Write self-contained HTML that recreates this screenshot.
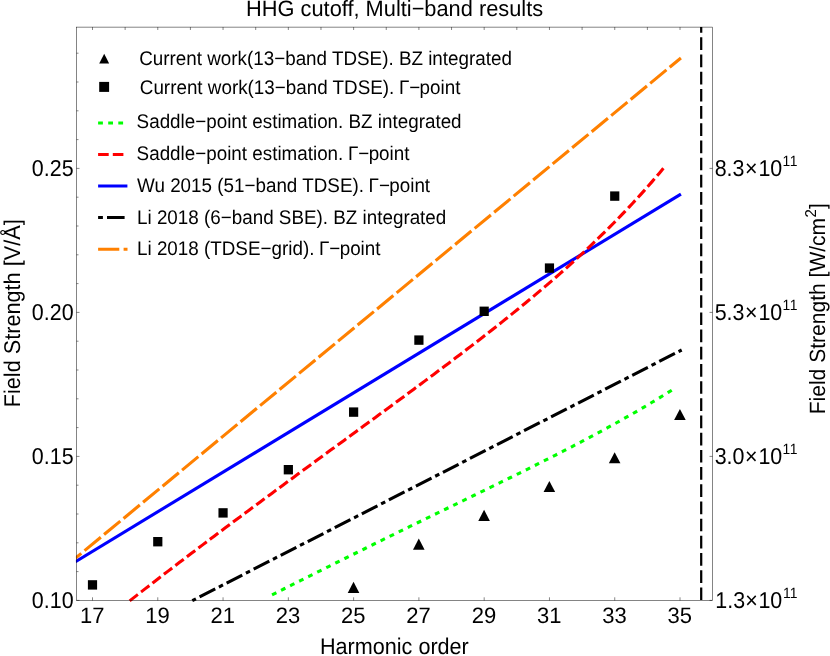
<!DOCTYPE html>
<html><head><meta charset="utf-8"><title>HHG cutoff</title>
<style>html,body{margin:0;padding:0;background:#fff;}svg{display:block;will-change:transform;}text{font-family:"Liberation Sans",sans-serif;fill:#000;text-rendering:geometricPrecision;}</style>
</head><body>
<svg width="830" height="656" viewBox="0 0 830 656">
<rect x="0" y="0" width="830" height="656" fill="#fff"/>
<defs><clipPath id="cp"><rect x="75.90" y="26.50" width="637.20" height="577.00"/></clipPath></defs>
<g clip-path="url(#cp)" fill="none" stroke-linecap="butt">
<line x1="75.50" y1="558.13" x2="680.92" y2="57.96" stroke="#ff8000" stroke-width="3.1" stroke-dasharray="21.1 4.2" stroke-dashoffset="13.57"/>
<line x1="75.50" y1="561.71" x2="680.92" y2="194.08" stroke="#0000ff" stroke-width="3.1"/>
<path d="M129.67,600.85 L133.51,597.85 L137.35,594.85 L141.19,591.86 L145.03,588.87 L148.87,585.90 L152.71,582.93 L156.55,579.97 L160.39,577.01 L164.23,574.06 L168.07,571.12 L171.91,568.18 L175.75,565.25 L179.59,562.32 L183.43,559.40 L187.27,556.49 L191.11,553.58 L194.95,550.67 L198.79,547.77 L202.63,544.88 L206.47,541.98 L210.31,539.10 L214.15,536.21 L217.99,533.33 L221.82,530.46 L225.66,527.59 L229.50,524.72 L233.34,521.86 L237.18,519.00 L241.02,516.14 L244.86,513.29 L248.70,510.43 L252.54,507.59 L256.38,504.74 L260.22,501.90 L264.06,499.06 L267.90,496.22 L271.74,493.39 L275.58,490.56 L279.42,487.73 L283.26,484.90 L287.10,482.08 L290.94,479.25 L294.78,476.43 L298.62,473.61 L302.46,470.80 L306.30,467.98 L310.14,465.17 L313.98,462.35 L317.82,459.54 L321.66,456.73 L325.50,453.92 L329.34,451.11 L333.18,448.30 L337.02,445.50 L340.86,442.69 L344.70,439.88 L348.54,437.07 L352.38,434.27 L356.22,431.46 L360.06,428.65 L363.90,425.84 L367.74,423.03 L371.58,420.22 L375.42,417.41 L379.26,414.60 L383.10,411.78 L386.94,408.97 L390.78,406.15 L394.62,403.33 L398.45,400.50 L402.29,397.68 L406.13,394.84 L409.97,392.01 L413.81,389.17 L417.65,386.33 L421.49,383.48 L425.33,380.63 L429.17,377.77 L433.01,374.91 L436.85,372.04 L440.69,369.16 L444.53,366.28 L448.37,363.39 L452.21,360.49 L456.05,357.59 L459.89,354.67 L463.73,351.75 L467.57,348.81 L471.41,345.87 L475.25,342.91 L479.09,339.95 L482.93,336.97 L486.77,333.98 L490.61,330.98 L494.45,327.96 L498.29,324.93 L502.13,321.88 L505.97,318.82 L509.81,315.74 L513.65,312.64 L517.49,309.53 L521.33,306.39 L525.17,303.24 L529.01,300.07 L532.85,296.87 L536.69,293.66 L540.53,290.42 L544.37,287.16 L548.21,283.87 L552.05,280.56 L555.89,277.22 L559.73,273.85 L563.57,270.46 L567.41,267.04 L571.25,263.58 L575.08,260.10 L578.92,256.58 L582.76,253.03 L586.60,249.44 L590.44,245.82 L594.28,242.16 L598.12,238.46 L601.96,234.72 L605.80,230.94 L609.64,227.12 L613.48,223.25 L617.32,219.34 L621.16,215.38 L625.00,211.38 L628.84,207.32 L632.68,203.22 L636.52,199.06 L640.36,194.85 L644.20,190.59 L648.04,186.26 L651.88,181.88 L655.72,177.44 L659.56,172.94 L663.40,168.37" stroke="#ff0000" stroke-width="3.1" stroke-dasharray="10.43 4.01" stroke-dashoffset="0"/>
<line x1="192.3" y1="600.65" x2="681.7" y2="350.0" stroke="#000" stroke-width="3.1" stroke-dasharray="17.58 4.1 4.6 4.1" stroke-dashoffset="22.2"/>
<path d="M272.05,594.81 L276.09,592.79 L280.14,590.77 L284.18,588.75 L288.22,586.73 L292.26,584.70 L296.31,582.68 L300.35,580.66 L304.39,578.64 L308.44,576.62 L312.48,574.60 L316.52,572.58 L320.57,570.57 L324.61,568.55 L328.65,566.54 L332.69,564.52 L336.74,562.51 L340.78,560.51 L344.82,558.50 L348.87,556.49 L352.91,554.49 L356.95,552.49 L360.99,550.49 L365.04,548.50 L369.08,546.50 L373.12,544.51 L377.17,542.52 L381.21,540.54 L385.25,538.55 L389.29,536.57 L393.34,534.59 L397.38,532.61 L401.42,530.63 L405.47,528.66 L409.51,526.68 L413.55,524.71 L417.60,522.74 L421.64,520.78 L425.68,518.81 L429.72,516.85 L433.77,514.88 L437.81,512.92 L441.85,510.96 L445.90,508.99 L449.94,507.03 L453.98,505.07 L458.02,503.11 L462.07,501.15 L466.11,499.19 L470.15,497.23 L474.20,495.26 L478.24,493.30 L482.28,491.33 L486.33,489.36 L490.37,487.40 L494.41,485.42 L498.45,483.45 L502.50,481.47 L506.54,479.49 L510.58,477.51 L514.63,475.52 L518.67,473.52 L522.71,471.53 L526.75,469.52 L530.80,467.52 L534.84,465.50 L538.88,463.48 L542.93,461.45 L546.97,459.42 L551.01,457.38 L555.06,455.33 L559.10,453.27 L563.14,451.20 L567.18,449.12 L571.23,447.03 L575.27,444.93 L579.31,442.82 L583.36,440.70 L587.40,438.57 L591.44,436.42 L595.48,434.26 L599.53,432.09 L603.57,429.90 L607.61,427.70 L611.66,425.48 L615.70,423.25 L619.74,420.99 L623.78,418.72 L627.83,416.44 L631.87,414.13 L635.91,411.80 L639.96,409.46 L644.00,407.09 L648.04,404.70 L652.09,402.29 L656.13,399.85 L660.17,397.40 L664.21,394.91 L668.26,392.41 L672.30,389.87" stroke="#00ff00" stroke-width="3.1" stroke-dasharray="4.8 5.3"/>
<line x1="701.2" y1="27.1" x2="701.2" y2="600.5" stroke="#000" stroke-width="2.25" stroke-dasharray="12.68 4.51" stroke-dashoffset="6.95"/>
</g>
<rect x="76.5" y="27.1" width="636.0" height="573.4" fill="none" stroke="#000" stroke-width="0.48"/>
<path d="M92.50,600.5 v-3.2 M157.78,600.5 v-3.2 M223.06,600.5 v-3.2 M288.34,600.5 v-3.2 M353.62,600.5 v-3.2 M418.90,600.5 v-3.2 M484.18,600.5 v-3.2 M549.46,600.5 v-3.2 M614.74,600.5 v-3.2 M680.02,600.5 v-3.2 M92.50,27.1 v2.9 M125.14,27.1 v2.9 M157.78,27.1 v2.9 M190.42,27.1 v2.9 M223.06,27.1 v2.9 M255.70,27.1 v2.9 M288.34,27.1 v2.9 M320.98,27.1 v2.9 M353.62,27.1 v2.9 M386.26,27.1 v2.9 M418.90,27.1 v2.9 M451.54,27.1 v2.9 M484.18,27.1 v2.9 M516.82,27.1 v2.9 M549.46,27.1 v2.9 M582.10,27.1 v2.9 M614.74,27.1 v2.9 M647.38,27.1 v2.9 M680.02,27.1 v2.9 M76.5,600.40 h3.0 M76.5,571.60 h2.0 M76.5,542.80 h2.0 M76.5,514.00 h2.0 M76.5,485.20 h2.0 M76.5,456.40 h3.0 M76.5,427.60 h2.0 M76.5,398.80 h2.0 M76.5,370.00 h2.0 M76.5,341.20 h2.0 M76.5,312.40 h3.0 M76.5,283.60 h2.0 M76.5,254.80 h2.0 M76.5,226.00 h2.0 M76.5,197.20 h2.0 M76.5,168.40 h3.0 M76.5,139.60 h2.0 M76.5,110.80 h2.0 M76.5,82.00 h2.0 M76.5,53.20 h2.0 M712.5,168.40 h-3.0 M712.5,312.40 h-3.0 M712.5,456.40 h-3.0 M712.5,600.40 h-3.0" stroke="#000" stroke-width="0.48" fill="none"/>
<rect x="87.90" y="580.20" width="9.2" height="9.4" fill="#000"/>
<rect x="153.18" y="537.00" width="9.2" height="9.4" fill="#000"/>
<rect x="218.46" y="508.20" width="9.2" height="9.4" fill="#000"/>
<rect x="283.74" y="465.00" width="9.2" height="9.4" fill="#000"/>
<rect x="349.02" y="407.40" width="9.2" height="9.4" fill="#000"/>
<rect x="414.30" y="335.40" width="9.2" height="9.4" fill="#000"/>
<rect x="479.58" y="306.60" width="9.2" height="9.4" fill="#000"/>
<rect x="544.86" y="263.40" width="9.2" height="9.4" fill="#000"/>
<rect x="610.14" y="191.40" width="9.2" height="9.4" fill="#000"/>
<path d="M353.52,581.80 L359.32,592.90 L347.72,592.90 Z" fill="#000"/>
<path d="M418.80,538.60 L424.60,549.70 L413.00,549.70 Z" fill="#000"/>
<path d="M484.08,509.80 L489.88,520.90 L478.28,520.90 Z" fill="#000"/>
<path d="M549.36,481.00 L555.16,492.10 L543.56,492.10 Z" fill="#000"/>
<path d="M614.64,452.20 L620.44,463.30 L608.84,463.30 Z" fill="#000"/>
<path d="M679.92,409.00 L685.72,420.10 L674.12,420.10 Z" fill="#000"/>
<text transform="translate(92.2,623.1) scale(1,1.015)" font-size="22.0" text-anchor="middle">17</text>
<text transform="translate(157.48,623.1) scale(1,1.015)" font-size="22.0" text-anchor="middle">19</text>
<text transform="translate(222.76,623.1) scale(1,1.015)" font-size="22.0" text-anchor="middle">21</text>
<text transform="translate(288.04,623.1) scale(1,1.015)" font-size="22.0" text-anchor="middle">23</text>
<text transform="translate(353.32,623.1) scale(1,1.015)" font-size="22.0" text-anchor="middle">25</text>
<text transform="translate(418.6,623.1) scale(1,1.015)" font-size="22.0" text-anchor="middle">27</text>
<text transform="translate(483.88,623.1) scale(1,1.015)" font-size="22.0" text-anchor="middle">29</text>
<text transform="translate(549.16,623.1) scale(1,1.015)" font-size="22.0" text-anchor="middle">31</text>
<text transform="translate(614.44,623.1) scale(1,1.015)" font-size="22.0" text-anchor="middle">33</text>
<text transform="translate(679.72,623.1) scale(1,1.015)" font-size="22.0" text-anchor="middle">35</text>
<text transform="translate(73.6,176.2) scale(1,1.07)" font-size="21.45" text-anchor="end">0.25</text>
<text transform="translate(73.6,320.2) scale(1,1.07)" font-size="21.45" text-anchor="end">0.20</text>
<text transform="translate(73.6,464.2) scale(1,1.07)" font-size="21.45" text-anchor="end">0.15</text>
<text transform="translate(73.6,608.2) scale(1,1.07)" font-size="21.45" text-anchor="end">0.10</text>
<text transform="translate(714.7,176.2) scale(1,1.07)" font-size="21.45" text-anchor="start">8.3<tspan dx="0.5">×</tspan><tspan dx="0.9">10</tspan><tspan font-size="13.9" dx="0.2 0.6" dy="-9.7">11</tspan></text>
<text transform="translate(714.7,320.2) scale(1,1.07)" font-size="21.45" text-anchor="start">5.3<tspan dx="0.5">×</tspan><tspan dx="0.9">10</tspan><tspan font-size="13.9" dx="0.2 0.6" dy="-9.7">11</tspan></text>
<text transform="translate(714.7,464.2) scale(1,1.07)" font-size="21.45" text-anchor="start">3.0<tspan dx="0.5">×</tspan><tspan dx="0.9">10</tspan><tspan font-size="13.9" dx="0.2 0.6" dy="-9.7">11</tspan></text>
<text transform="translate(715.3,608.2) scale(1,1.07)" font-size="21.45" text-anchor="start">1.3<tspan dx="0.2">×</tspan><tspan dx="0.6">10</tspan><tspan font-size="13.9" dx="0.7 0" dy="-9.7">11</tspan></text>
<text transform="translate(394.6,16.3) scale(1,1.02)" font-size="21.8" text-anchor="middle">HHG cutoff, Multi−band results</text>
<text transform="translate(394.4,654.3) scale(1,1.05)" font-size="21.6" text-anchor="middle">Harmonic order</text>
<text transform="translate(20.4,313.3) rotate(-90) scale(1,1.05)" font-size="21.68" text-anchor="middle">Field Strength [V/Å]</text>
<text transform="translate(824.6,308.7) rotate(-90) scale(1,1.05)" font-size="21.05" text-anchor="middle">Field Strength [W/cm<tspan font-size="15" dx="0.3" dy="-8.6">2</tspan><tspan dx="0.3" dy="8.6">]</tspan></text>
<path d="M104.2,53.7 L109.15,63.55 L99.2,63.55 Z" fill="#000"/>
<rect x="99.2" y="81.9" width="9.9" height="10.0" fill="#000"/>
<text transform="translate(139.2,65.45) scale(1,1.05)" font-size="18.84" text-anchor="start">Current work(13−band TDSE). BZ integrated</text>
<text transform="translate(139.8,94.05) scale(1,1.05)" font-size="18.84" text-anchor="start">Current work(13−band TDSE). <tspan dx="-0.6">Γ−</tspan><tspan dx="-0.7">point</tspan></text>
<text transform="translate(136.6,128.0) scale(1,1.05)" font-size="18.84" text-anchor="start">Saddle−point estimation. BZ integrated</text>
<text transform="translate(136.6,159.9) scale(1,1.05)" font-size="18.84" text-anchor="start">Saddle−point estimation. <tspan dx="-0.6">Γ−</tspan><tspan dx="-0.7">point</tspan></text>
<text transform="translate(137.0,191.7) scale(1,1.05)" font-size="18.84" text-anchor="start">Wu 2015 (51−band TDSE). <tspan dx="-0.6">Γ−</tspan><tspan dx="-0.7">point</tspan></text>
<text transform="translate(137.0,223.5) scale(1,1.05)" font-size="18.84" text-anchor="start">Li 2018 (6−band SBE). BZ integrated</text>
<text transform="translate(137.0,254.8) scale(1,1.05)" font-size="18.84" text-anchor="start">Li 2018 (TDSE−grid). <tspan dx="-0.6">Γ−</tspan><tspan dx="-0.7">point</tspan></text>
<line x1="98.1" y1="123.1" x2="127.5" y2="123.1" stroke="#00ff00" stroke-width="3.0" stroke-dasharray="4.8 5.3"/>
<line x1="98.1" y1="154.55" x2="127.5" y2="154.55" stroke="#ff0000" stroke-width="3.0" stroke-dasharray="10.6 4.1"/>
<line x1="98.1" y1="186.0" x2="127.4" y2="186.0" stroke="#0000ff" stroke-width="3.0"/>
<line x1="98.1" y1="217.55" x2="127.5" y2="217.55" stroke="#000" stroke-width="3.0" stroke-dasharray="4.8 4.1 17.6 4.1"/>
<line x1="98.1" y1="249.3" x2="127.5" y2="249.3" stroke="#ff8000" stroke-width="3.0" stroke-dasharray="21.2 4.3"/>
</svg></body></html>
